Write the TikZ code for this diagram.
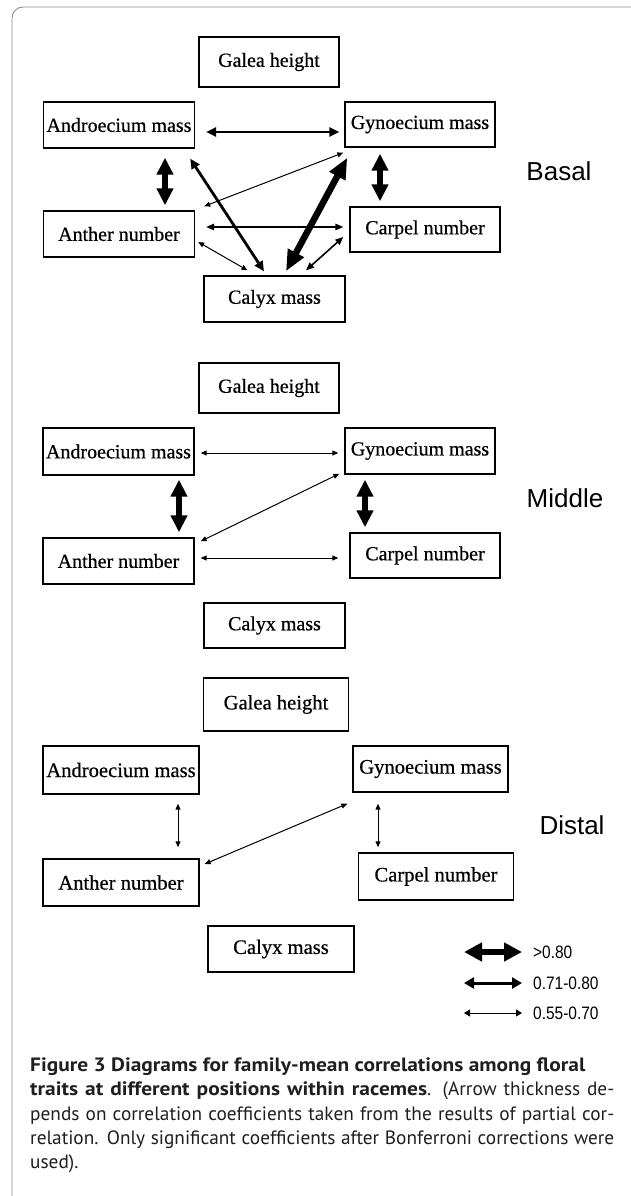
\documentclass[tikz,border=0pt]{standalone}
\usepackage{fontspec}
\setmainfont{Liberation Serif}
\newfontfamily\nodefont{Liberation Serif}[FakeBold=0.6]
\newfontfamily\lblfont{Liberation Sans}
\newfontfamily\capfont{PT Sans}[BoldFeatures={FakeStretch=1.11}]
\usetikzlibrary{arrows.meta,calc}
\tikzset{
  box/.style={draw, line width=1.4pt, inner sep=0pt, font=\nodefont\fontsize{20}{24}\selectfont},
  boxb/.style={draw, line width=1.4pt, inner sep=0pt, font=\nodefont\fontsize{20.6}{24}\selectfont},
  poslabel/.style={font=\lblfont\fontsize{26}{30}\selectfont},
  a1/.style={line width=1pt, {Triangle[length=6pt,width=5pt]}-{Triangle[length=6pt,width=5pt]}},
  a1b/.style={line width=1.6pt, {Triangle[length=8pt,width=6.5pt]}-{Triangle[length=8pt,width=6.5pt]}},
  a2/.style={line width=2.8pt, {Triangle[length=10pt,width=9pt]}-{Triangle[length=10pt,width=9pt]}},
  a3/.style={line width=5.5pt, {Triangle[length=17pt,width=16pt]}-{Triangle[length=17pt,width=16pt]}},
  a4/.style={line width=6.5pt, {Triangle[length=21pt,width=17pt]}-{Triangle[length=21pt,width=17pt]}},
  leg/.style={anchor=west, inner sep=0pt, xscale=0.86, font=\lblfont\fontsize{18}{20}\selectfont},
  captext/.style={anchor=base west, inner sep=0pt, text=black!88, font=\capfont\fontsize{19.3}{24}\selectfont},
  framestyle/.style={draw=black!45, line width=0.9pt, rounded corners=11pt}
}
\newcommand{\jline}[1]{\makebox[584pt][s]{#1}}
\begin{document}
\begin{tikzpicture}[x=1pt,y=-1pt]
\useasboundingbox (0,0) rectangle (631,1196);
\draw[framestyle] (12,1200) -- (12,7) -- (640,7);

% ---------- Basal ----------
\node[box, minimum width=140pt, minimum height=50pt] (G1) at (269,62) {Galea height};
\node[box, minimum width=151pt, minimum height=46pt] (A1) at (119,125) {Androecium mass};
\node[box, minimum width=150pt, minimum height=45pt] (Y1) at (420,124.5) {Gynoecium mass};
\node[box, minimum width=151pt, minimum height=46pt] (N1) at (119,234) {Anther number};
\node[box, minimum width=150pt, minimum height=45pt] (C1) at (425,229.5) {Carpel number};
\node[box, minimum width=141pt, minimum height=46pt] (X1) at (274.5,299) {Calyx mass};
\node[poslabel] (P1) at (559,171) {Basal};

\draw[a2] ([shift={(11,7)}]A1.east) -- ([shift={(-5,7.5)}]Y1.west);
\draw[a3] ([shift={(46,9)}]A1.south) -- ([shift={(46,-5)}]N1.north);
\draw[a3] ([shift={(-40,6)}]Y1.south) -- ([shift={(-45,-5)}]C1.north);
\draw[a2] ([shift={(-5,10)}]A1.south east) -- ([shift={(-10.5,-4)}]X1.north);
\draw[a1] ([shift={(-1,5)}]Y1.south west) -- ([shift={(9,-4)}]N1.north east);
\draw[a4] ([shift={(3,10)}]Y1.south west) -- ([shift={(11.5,-4)}]X1.north);
\draw[a1b] ([shift={(11,-7)}]N1.east) -- ([shift={(-6,-2.5)}]C1.west);
\draw[a1] ([shift={(3,8)}]N1.east) -- ([shift={(-27,-5)}]X1.north);
\draw[a1b] ([shift={(-6,7.5)}]C1.west) -- ([shift={(31.5,-5)}]X1.north);

% ---------- Middle ----------
\node[box, minimum width=140pt, minimum height=50pt] (G2) at (269,388) {Galea height};
\node[box, minimum width=151pt, minimum height=47pt] (A2) at (118.5,451.5) {Androecium mass};
\node[box, minimum width=150pt, minimum height=46pt] (Y2) at (420,451) {Gynoecium mass};
\node[box, minimum width=151pt, minimum height=46pt] (N2) at (118.5,561) {Anther number};
\node[box, minimum width=150pt, minimum height=45pt] (C2) at (425,555.5) {Carpel number};
\node[box, minimum width=141pt, minimum height=45pt] (X2) at (274.5,625.5) {Calyx mass};
\node[poslabel] (P2) at (565,498) {Middle};

\draw[a1] ([shift={(6,1.5)}]A2.east) -- ([shift={(-6,2)}]Y2.west);
\draw[a3] ([shift={(60.5,4)}]A2.south) -- ([shift={(60.5,-5)}]N2.north);
\draw[a3] ([shift={(-55,5)}]Y2.south) -- ([shift={(-60,-5)}]C2.north);
\draw[a1] ([shift={(-5,-1)}]Y2.south west) -- ([shift={(6,4)}]N2.north east);
\draw[a1] ([shift={(6,-3)}]N2.east) -- ([shift={(-11,2.5)}]C2.west);

% ---------- Distal ----------
\node[boxb, minimum width=145pt, minimum height=53pt] (G3) at (276,704.5) {Galea height};
\node[boxb, minimum width=156pt, minimum height=48pt] (A3) at (121,770) {Androecium mass};
\node[boxb, minimum width=155pt, minimum height=46pt] (Y3) at (430.5,769) {Gynoecium mass};
\node[boxb, minimum width=156pt, minimum height=47pt] (N3) at (121,882.5) {Anther number};
\node[boxb, minimum width=155pt, minimum height=47pt] (C3) at (436,876.5) {Carpel number};
\node[boxb, minimum width=146pt, minimum height=46pt] (X3) at (281,949) {Calyx mass};
\node[poslabel] (P3) at (572,825) {Distal};

\draw[a1] ([shift={(57,9)}]A3.south) -- ([shift={(57,-11)}]N3.north);
\draw[a1] ([shift={(-52.5,11)}]Y3.south) -- ([shift={(-58,-5)}]C3.north);
\draw[a1] ([shift={(-5,11)}]Y3.south west) -- ([shift={(5,-18.5)}]N3.east);

% ---------- Legend ----------
\node[leg] (L1) at (533,952) {>0.80};
\node[leg] (L2) at (533,983) {0.71-0.80};
\node[leg] (L3) at (533,1013) {0.55-0.70};
\draw[line width=6pt, {Triangle[length=18pt,width=18pt]}-{Triangle[length=18pt,width=18pt]}]
  ([xshift=-69]L1.west) -- ([xshift=-11]L1.west);
\draw[line width=3pt, {Triangle[length=10pt,width=11pt]}-{Triangle[length=10pt,width=11pt]}]
  ([xshift=-69]L2.west) -- ([xshift=-11]L2.west);
\draw[line width=1pt, {Triangle[length=6pt,width=7pt]}-{Triangle[length=6pt,width=7pt]}]
  ([xshift=-69]L3.west) -- ([xshift=-11]L3.west);

% ---------- Caption ----------
\node[captext] (T1) at (30,1071) {\bfseries Figure 3 Diagrams for family-mean correlations among floral};
\node[captext] (T2) at (30,1095.5) {\jline{\textbf{traits at different positions within racemes}. (Arrow thickness de-}};
\node[captext] (T3) at (30,1120) {\jline{pends on correlation coefficients taken from the results of partial cor-}};
\node[captext] (T4) at (30,1144.5) {\jline{relation. Only significant coefficients after Bonferroni corrections were}};
\node[captext] (T5) at (30,1168.5) {used).};
\end{tikzpicture}
\end{document}
